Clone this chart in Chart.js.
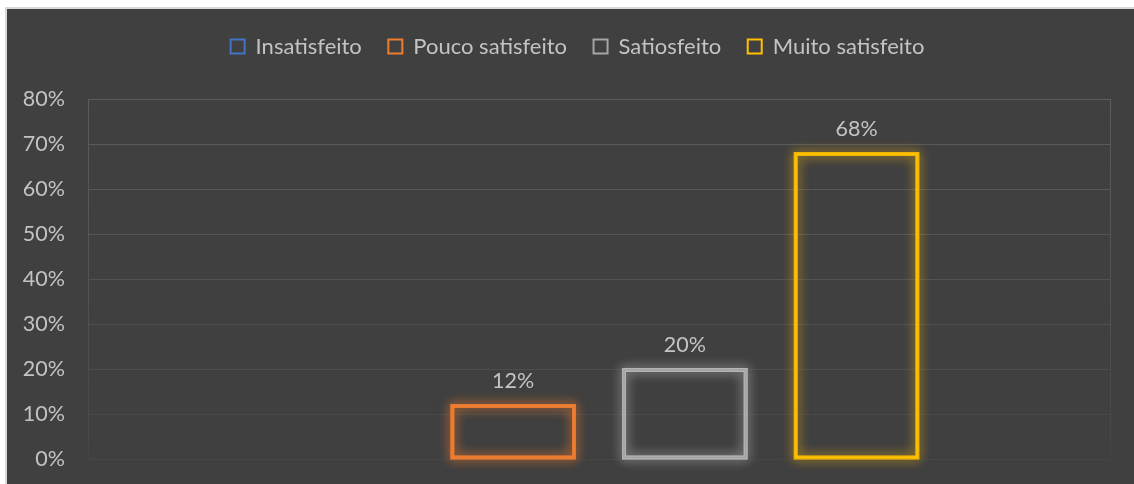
<!DOCTYPE html>
<html>
<head>
<meta charset="utf-8">
<script src="https://cdn.jsdelivr.net/npm/chart.js@4"></script>
<style>
  html, body { margin: 0; padding: 0; background: #ffffff; }
  #frame { position: absolute; left: 5px; top: 7px; width: 1129px; height: 477px; background: #d9d9d9; }
  #wrap { position: absolute; left: 7px; top: 9px; width: 1127px; height: 475px; background: #404040; }
</style>
</head>
<body>
<div id="frame"></div>
<div id="wrap"><canvas id="c" width="1127" height="475"></canvas></div>
<script>
const categories = [""];
const seriesNames = ["Insatisfeito", "Pouco satisfeito", "Satiosfeito", "Muito satisfeito"];
const seriesValues = [0, 12, 20, 68];
const seriesColors = ["#4472C4", "#ED7D31", "#A5A5A5", "#FFC000"];
const glowColors = ["rgba(68,114,196,0.8)", "rgba(237,125,49,0.75)", "rgba(190,190,190,0.7)", "rgba(255,192,0,0.65)"];
const yTicks = [0, 10, 20, 30, 40, 50, 60, 70, 80];

const FONT = "Lato, 'Open Sans', sans-serif";
const TEXT = "#c3c3c3";

const datasets = seriesNames.map((name, i) => ({
  label: name,
  data: [seriesValues[i]],
  backgroundColor: "rgba(0,0,0,0)",
  borderColor: seriesColors[i],
  borderWidth: seriesValues[i] === 0 ? 0 : 2,
  borderSkipped: false,
  glow: glowColors[i],
  showLabel: seriesValues[i] !== 0
}));

function gridColor(ctx) {
  const chart = ctx.chart;
  const area = chart.chartArea;
  if (!area) return "#595959";
  const g = chart.ctx.createLinearGradient(0, area.top, 0, area.bottom);
  g.addColorStop(0, "#5c5c5c");
  g.addColorStop(0.5, "#535353");
  g.addColorStop(1, "#464646");
  return g;
}

const glowPlugin = {
  id: "glow",
  beforeDatasetDraw(chart, args) {
    const ds = chart.data.datasets[args.index];
    const ctx = chart.ctx;
    const meta = chart.getDatasetMeta(args.index);
    if (ds.showLabel) {
      ctx.save();
      ctx.shadowColor = ds.glow;
      ctx.shadowBlur = 12;
      ctx.strokeStyle = ds.glow;
      ctx.lineWidth = 4;
      meta.data.forEach(el => {
        const p = el.getProps(["x", "y", "base", "width"], true);
        const l = p.x - p.width / 2, t = p.y;
        ctx.strokeRect(l + 1, t + 1, p.width - 2, p.base - p.y - 2);
        ctx.strokeRect(l + 1, t + 1, p.width - 2, p.base - p.y - 2);
      });
      ctx.restore();
    }
  }
};

const labelPlugin = {
  id: "valueLabels",
  afterDatasetsDraw(chart) {
    const ctx = chart.ctx;
    ctx.save();
    ctx.font = "21.5px " + FONT;
    ctx.fillStyle = TEXT;
    ctx.textAlign = "center";
    ctx.textBaseline = "middle";
    chart.data.datasets.forEach((ds, i) => {
      if (!ds.showLabel) return;
      const meta = chart.getDatasetMeta(i);
      meta.data.forEach((el, j) => {
        ctx.fillText(ds.data[j] + "%", el.x, el.y - 24);
      });
    });
    ctx.restore();
  }
};

const LEGEND_SHIFT_X = 19;
const legendFit = {
  id: "legendFit",
  beforeInit(chart) {
    const lg = chart.legend;
    const origFit = lg.fit;
    lg.fit = function () {
      origFit.call(this);
      this.height = 90;
    };
    const origDraw = lg.draw;
    lg.draw = function () {
      const ctx = this.ctx;
      ctx.save();
      ctx.translate(LEGEND_SHIFT_X, 0);
      origDraw.call(this);
      ctx.restore();
    };
  }
};

new Chart(document.getElementById("c"), {
  type: "bar",
  data: { labels: categories, datasets },
  plugins: [legendFit, glowPlugin, labelPlugin],
  options: {
    responsive: false,
    animation: false,
    events: [],
    layout: { padding: { top: 0, right: 24, bottom: 25, left: 0 } },
    datasets: { bar: { categoryPercentage: 0.672, barPercentage: 0.72 } },
    plugins: {
      legend: {
        position: "top",
        labels: {
          font: { size: 22, family: FONT },
          color: TEXT,
          boxWidth: 14,
          boxHeight: 14,
          padding: 26.5,
          generateLabels(chart) {
            return chart.data.datasets.map((ds, i) => ({
              text: ds.label,
              fillStyle: "rgba(0,0,0,0)",
              strokeStyle: ds.borderColor,
              lineWidth: 2,
              fontColor: TEXT,
              hidden: false,
              datasetIndex: i
            }));
          }
        }
      },
      tooltip: { enabled: false }
    },
    scales: {
      x: {
        afterFit(scale) { scale.height = 0; },
        ticks: { display: false },
        grid: { display: true, offset: true, color: gridColor, lineWidth: 1, drawTicks: false },
        border: { display: false }
      },
      y: {
        min: 0,
        max: 80,
        afterBuildTicks(scale) { scale.ticks = yTicks.map(v => ({ value: v })); },
        afterFit(scale) { scale.width = 81; },
        ticks: {
          callback: v => v + "%",
          font: { size: 21.5, family: FONT },
          color: TEXT,
          padding: 0
        },
        grid: { color: gridColor, lineWidth: 1, drawTicks: true, tickLength: 23, tickColor: "rgba(0,0,0,0)" },
        border: { display: false }
      }
    }
  }
});
</script>
</body>
</html>
